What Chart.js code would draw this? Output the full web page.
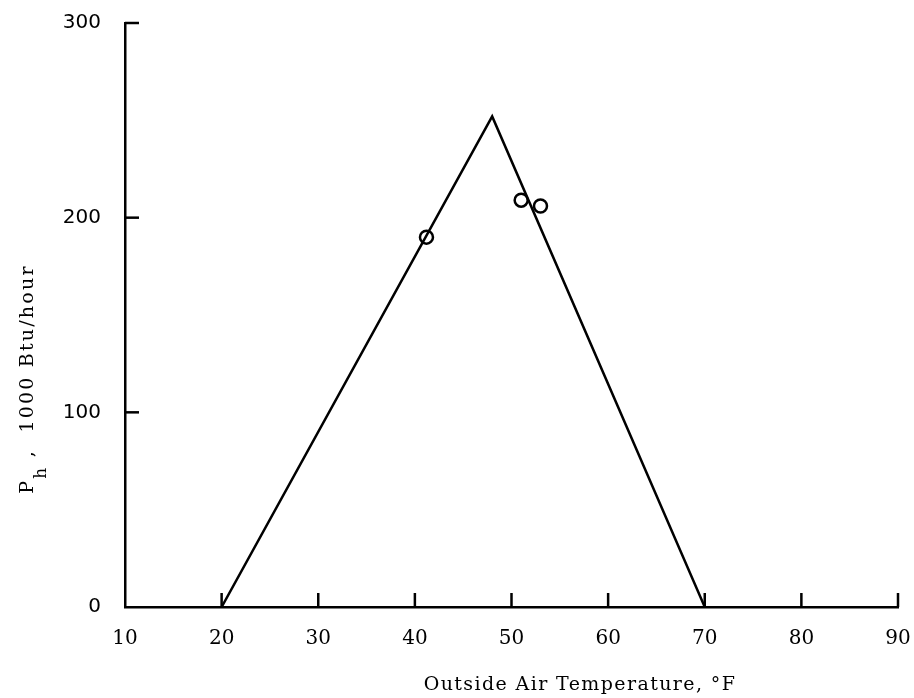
<!DOCTYPE html>
<html>
<head>
<meta charset="utf-8">
<script src="https://cdn.jsdelivr.net/npm/chart.js@4.4.0/dist/chart.umd.min.js"></script>
<style>
html,body{margin:0;padding:0;background:#fff;}
#wrap{width:914px;height:698px;position:relative;}
</style>
</head>
<body>
<div id="wrap"><canvas id="c" width="914" height="698"></canvas></div>
<script>
// Data
const xTicks = [10, 20, 30, 40, 50, 60, 70, 80, 90];
const yTicks = [0, 100, 200, 300];
const lineTemps = [20, 48, 70];
const lineValues = [0, 252, 0];
const pointTemps = [41.2, 51.0, 53.0];
const pointValues = [190, 209, 206];
const xTitle = 'Outside Air Temperature, \u00B0F';
const yTitleMain = 'P';
const yTitleSub = 'h';
const yTitleRest = ' ,  1000 Btu/hour';

const serif = '"DejaVu Serif", serif';
const sans = '"DejaVu Sans", sans-serif';

const tickPlugin = {
  id: 'inwardTicks',
  afterDatasetsDraw(chart) {
    const ctx = chart.ctx;
    const xs = chart.scales.x, ys = chart.scales.y;
    const a = chart.chartArea;
    ctx.save();
    ctx.strokeStyle = '#000';
    ctx.lineWidth = 2.5;
    xTicks.forEach(v => {
      if (v === xTicks[0]) return;
      const px = xs.getPixelForValue(v);
      ctx.beginPath();
      ctx.moveTo(px, a.bottom);
      ctx.lineTo(px, a.bottom - 14);
      ctx.stroke();
    });
    yTicks.forEach(v => {
      if (v === yTicks[0]) return;
      const py = ys.getPixelForValue(v);
      ctx.beginPath();
      ctx.moveTo(a.left, py);
      ctx.lineTo(a.left + 14, py);
      ctx.stroke();
    });
    ctx.restore();
  }
};

const titlePlugin = {
  id: 'titles',
  afterDraw(chart) {
    const ctx = chart.ctx;
    ctx.save();
    ctx.fillStyle = '#000';
    // x title
    ctx.font = '19px ' + serif;
    ctx.letterSpacing = '1.4px';
    ctx.textAlign = 'center';
    ctx.textBaseline = 'alphabetic';
    ctx.fillText(xTitle, 580, 690);
    // y title rotated
    ctx.translate(33, 379);
    ctx.rotate(-Math.PI / 2);
    ctx.textAlign = 'left';
    ctx.letterSpacing = '2.2px';
    ctx.font = '19px ' + serif;
    const wMain = ctx.measureText(yTitleMain).width;
    ctx.font = '17px ' + serif;
    const wSub = ctx.measureText(yTitleSub).width;
    ctx.font = '19px ' + serif;
    const wRest = ctx.measureText(yTitleRest).width;
    const total = wMain + wSub + wRest;
    let x = -total / 2;
    ctx.fillText(yTitleMain, x, 0);
    x += wMain;
    ctx.font = '17px ' + serif;
    ctx.fillText(yTitleSub, x, 13);
    x += wSub;
    ctx.font = '19px ' + serif;
    ctx.fillText(yTitleRest, x, 0);
    ctx.letterSpacing = '0px';
    ctx.restore();
  }
};

new Chart(document.getElementById('c'), {
  type: 'scatter',
  data: {
    datasets: [
      {
        type: 'line',
        data: lineTemps.map((t, i) => ({x: t, y: lineValues[i]})),
        borderColor: '#000',
        borderWidth: 2.5,
        pointRadius: 0,
        fill: false,
        tension: 0
      },
      {
        type: 'scatter',
        data: pointTemps.map((t, i) => ({x: t, y: pointValues[i]})),
        borderColor: '#000',
        backgroundColor: '#fff',
        borderWidth: 2.5,
        pointRadius: 6.5,
        pointStyle: 'circle'
      }
    ]
  },
  options: {
    responsive: false,
    animation: false,
    layout: {padding: {left: 0, right: 16, top: 23, bottom: 0}},
    plugins: {legend: {display: false}, tooltip: {enabled: false}},
    scales: {
      x: {
        type: 'linear',
        min: 10, max: 90,
        afterFit(s) { s.height = 91; s.paddingLeft = 0; s.paddingRight = 0; s.paddingTop = 0; s.paddingBottom = 0; },
        afterBuildTicks(s) { s.ticks = xTicks.map(v => ({value: v})); },
        grid: {display: false, drawTicks: false},
        border: {display: true, color: '#000', width: 2.5},
        ticks: {color: '#000', font: {family: serif, size: 20}, padding: 20, maxRotation: 0}
      },
      y: {
        type: 'linear',
        min: 0, max: 300,
        afterFit(s) { s.width = 125; s.paddingLeft = 0; s.paddingRight = 0; s.paddingTop = 0; s.paddingBottom = 0; },
        afterBuildTicks(s) { s.ticks = yTicks.map(v => ({value: v})); },
        grid: {display: false, drawTicks: false},
        border: {display: true, color: '#000', width: 2.5},
        ticks: {color: '#000', font: {family: sans, size: 20}, padding: 24}
      }
    }
  },
  plugins: [tickPlugin, titlePlugin]
});
</script>
</body>
</html>
